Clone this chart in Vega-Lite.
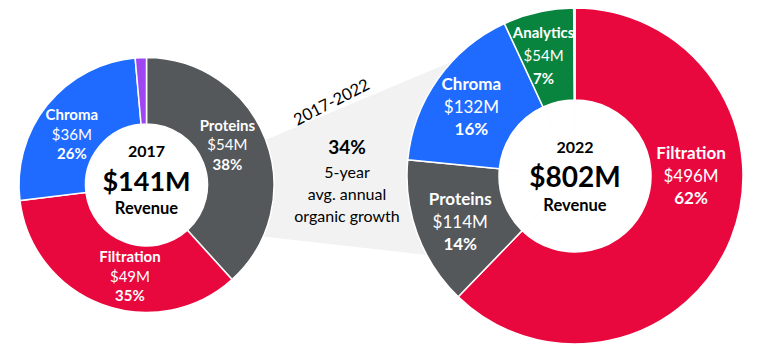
{
  "$schema": "https://vega.github.io/schema/vega-lite/v6.json",
  "width": 761,
  "height": 352,
  "autosize": {"type": "fit", "contains": "padding"},
  "padding": 0,
  "background": "white",
  "config": {"view": {"stroke": null}, "text": {"font": "Lato"}},
  "datasets": {
    "slices": [
      {"year": "2017", "segment": "Proteins", "value": 54, "ord": 1, "label": "Proteins", "amount": "$54M", "share": "38%"},
      {"year": "2017", "segment": "Filtration", "value": 49, "ord": 2, "label": "Filtration", "amount": "$49M", "share": "35%"},
      {"year": "2017", "segment": "Chroma", "value": 36, "ord": 3, "label": "Chroma", "amount": "$36M", "share": "26%"},
      {"year": "2017", "segment": "Other", "value": 2, "ord": 4, "label": "", "amount": "", "share": ""},
      {"year": "2022", "segment": "Filtration", "value": 496, "ord": 1, "label": "Filtration", "amount": "$496M", "share": "62%"},
      {"year": "2022", "segment": "Proteins", "value": 114, "ord": 2, "label": "Proteins", "amount": "$114M", "share": "14%"},
      {"year": "2022", "segment": "Chroma", "value": 132, "ord": 3, "label": "Chroma", "amount": "$132M", "share": "16%"},
      {"year": "2022", "segment": "Analytics", "value": 54, "ord": 4, "label": "Analytics", "amount": "$54M", "share": "7%"},
      {"year": "2022", "segment": "Other", "value": 1, "ord": 5, "label": "", "amount": "", "share": ""}
    ],
    "totals": [
      {"year": "2017", "total": "$141M", "caption": "Revenue"},
      {"year": "2022", "total": "$802M", "caption": "Revenue"}
    ],
    "band": [
      {"year": "2017", "upper": 190, "lower": 223.4},
      {"year": "2022", "upper": 10, "lower": 271.7}
    ],
    "growth": [
      {"year": "2017-2022", "span": "2017-2022", "rate": "34%", "l1": "5-year", "l2": "avg. annual", "l3": "organic growth"}
    ]
  },
  "resolve": {"scale": {"theta": "independent", "y": "independent"}},
  "layer": [
    {
      "data": {"name": "band"},
      "mark": {"type": "area", "color": "#F2F2F2", "interpolate": "linear"},
      "encoding": {
        "x": {"field": "year", "type": "nominal", "scale": {"type": "point", "domain": ["2017", "2017-2022", "2022"], "range": [146.5, 575], "padding": 0}, "axis": null},
        "y": {"field": "upper", "type": "quantitative", "scale": {"domain": [0, 352], "reverse": true, "zero": false, "nice": false}, "axis": null},
        "y2": {"field": "lower"}
      }
    },
    {
      "data": {"name": "slices"},
      "transform": [{"filter": "datum.year === '2017'"}],
      "mark": {"type": "arc", "radius": 62, "fill": "white"},
      "encoding": {
        "x": {"field": "year", "type": "nominal", "scale": {"type": "point", "domain": ["2017", "2017-2022", "2022"], "range": [146.5, 575], "padding": 0}, "axis": null},
        "y": {"field": "year", "type": "nominal", "scale": {"type": "point", "domain": ["2017", "2017-2022", "2022"], "range": [185, 176], "padding": 0}, "axis": null},
        "theta": {"field": "value", "type": "quantitative", "stack": true},
        "order": {"field": "ord", "type": "quantitative"},
        "detail": {"field": "segment"}
      }
    },
    {
      "data": {"name": "slices"},
      "transform": [{"filter": "datum.year === '2017'"}],
      "mark": {"type": "arc", "radius": 127.5, "radius2": 61, "stroke": "white", "strokeWidth": 1.5},
      "encoding": {
        "x": {"field": "year", "type": "nominal", "scale": {"type": "point", "domain": ["2017", "2017-2022", "2022"], "range": [146.5, 575], "padding": 0}, "axis": null},
        "y": {"field": "year", "type": "nominal", "scale": {"type": "point", "domain": ["2017", "2017-2022", "2022"], "range": [185, 176], "padding": 0}, "axis": null},
        "theta": {"field": "value", "type": "quantitative", "stack": true},
        "order": {"field": "ord", "type": "quantitative"},
        "color": {"field": "segment", "type": "nominal", "scale": {"domain": ["Proteins", "Filtration", "Chroma", "Analytics", "Other"], "range": ["#54585A", "#E8083E", "#1F6BFF", "#08843E", "#9D46F2"]}, "legend": null}
      }
    },
    {
      "data": {"name": "slices"},
      "transform": [{"filter": "datum.year === '2022'"}],
      "mark": {"type": "arc", "radius": 77, "fill": "white"},
      "encoding": {
        "x": {"field": "year", "type": "nominal", "scale": {"type": "point", "domain": ["2017", "2017-2022", "2022"], "range": [146.5, 575], "padding": 0}, "axis": null},
        "y": {"field": "year", "type": "nominal", "scale": {"type": "point", "domain": ["2017", "2017-2022", "2022"], "range": [185, 176], "padding": 0}, "axis": null},
        "theta": {"field": "value", "type": "quantitative", "stack": true},
        "order": {"field": "ord", "type": "quantitative"},
        "detail": {"field": "segment"}
      }
    },
    {
      "data": {"name": "slices"},
      "transform": [{"filter": "datum.year === '2022'"}],
      "mark": {"type": "arc", "radius": 168, "radius2": 76, "stroke": "white", "strokeWidth": 1.5},
      "encoding": {
        "x": {"field": "year", "type": "nominal", "scale": {"type": "point", "domain": ["2017", "2017-2022", "2022"], "range": [146.5, 575], "padding": 0}, "axis": null},
        "y": {"field": "year", "type": "nominal", "scale": {"type": "point", "domain": ["2017", "2017-2022", "2022"], "range": [185, 176], "padding": 0}, "axis": null},
        "theta": {"field": "value", "type": "quantitative", "stack": true},
        "order": {"field": "ord", "type": "quantitative"},
        "color": {"field": "segment", "type": "nominal", "scale": {"domain": ["Proteins", "Filtration", "Chroma", "Analytics", "Other"], "range": ["#54585A", "#E8083E", "#1F6BFF", "#08843E", "#9D46F2"]}, "legend": null}
      }
    },
    {
      "data": {"name": "slices"},
      "transform": [{"filter": "datum.year === '2017'"}],
      "mark": {"type": "text", "radius": 90, "dy": -19.5, "fontSize": 15, "fontWeight": "bold", "fill": "white", "align": "center", "baseline": "middle"},
      "encoding": {
        "x": {"field": "year", "type": "nominal", "scale": {"type": "point", "domain": ["2017", "2017-2022", "2022"], "range": [146.5, 575], "padding": 0}, "axis": null},
        "y": {"field": "year", "type": "nominal", "scale": {"type": "point", "domain": ["2017", "2017-2022", "2022"], "range": [185, 176], "padding": 0}, "axis": null},
        "theta": {"field": "value", "type": "quantitative", "stack": true, "scale": {"range": [-0.087, 6.196]}},
        "order": {"field": "ord", "type": "quantitative"},
        "detail": {"field": "segment"},
        "text": {"condition": {"test": "datum.segment === 'Filtration'", "value": ""}, "field": "label", "type": "nominal"}
      }
    },
    {
      "data": {"name": "slices"},
      "transform": [{"filter": "datum.year === '2017'"}],
      "mark": {"type": "text", "radius": 90, "dy": 0, "fontSize": 15, "fontWeight": "normal", "fill": "white", "align": "center", "baseline": "middle"},
      "encoding": {
        "x": {"field": "year", "type": "nominal", "scale": {"type": "point", "domain": ["2017", "2017-2022", "2022"], "range": [146.5, 575], "padding": 0}, "axis": null},
        "y": {"field": "year", "type": "nominal", "scale": {"type": "point", "domain": ["2017", "2017-2022", "2022"], "range": [185, 176], "padding": 0}, "axis": null},
        "theta": {"field": "value", "type": "quantitative", "stack": true, "scale": {"range": [-0.087, 6.196]}},
        "order": {"field": "ord", "type": "quantitative"},
        "detail": {"field": "segment"},
        "text": {"condition": {"test": "datum.segment === 'Filtration'", "value": ""}, "field": "amount", "type": "nominal"}
      }
    },
    {
      "data": {"name": "slices"},
      "transform": [{"filter": "datum.year === '2017'"}],
      "mark": {"type": "text", "radius": 90, "dy": 19.5, "fontSize": 15, "fontWeight": "bold", "fill": "white", "align": "center", "baseline": "middle"},
      "encoding": {
        "x": {"field": "year", "type": "nominal", "scale": {"type": "point", "domain": ["2017", "2017-2022", "2022"], "range": [146.5, 575], "padding": 0}, "axis": null},
        "y": {"field": "year", "type": "nominal", "scale": {"type": "point", "domain": ["2017", "2017-2022", "2022"], "range": [185, 176], "padding": 0}, "axis": null},
        "theta": {"field": "value", "type": "quantitative", "stack": true, "scale": {"range": [-0.087, 6.196]}},
        "order": {"field": "ord", "type": "quantitative"},
        "detail": {"field": "segment"},
        "text": {"condition": {"test": "datum.segment === 'Filtration'", "value": ""}, "field": "share", "type": "nominal"}
      }
    },
    {
      "data": {"name": "slices"},
      "transform": [{"filter": "datum.year === '2017'"}],
      "mark": {"type": "text", "radius": 90, "dx": 7.4, "dy": -14.5, "fontSize": 15, "fontWeight": "bold", "fill": "white", "align": "center", "baseline": "middle"},
      "encoding": {
        "x": {"field": "year", "type": "nominal", "scale": {"type": "point", "domain": ["2017", "2017-2022", "2022"], "range": [146.5, 575], "padding": 0}, "axis": null},
        "y": {"field": "year", "type": "nominal", "scale": {"type": "point", "domain": ["2017", "2017-2022", "2022"], "range": [185, 176], "padding": 0}, "axis": null},
        "theta": {"field": "value", "type": "quantitative", "stack": true, "scale": {"range": [-0.087, 6.196]}},
        "order": {"field": "ord", "type": "quantitative"},
        "detail": {"field": "segment"},
        "text": {"condition": {"test": "datum.segment === 'Filtration'", "field": "label", "type": "nominal"}, "value": ""}
      }
    },
    {
      "data": {"name": "slices"},
      "transform": [{"filter": "datum.year === '2017'"}],
      "mark": {"type": "text", "radius": 90, "dx": 7.4, "dy": 5, "fontSize": 15, "fontWeight": "normal", "fill": "white", "align": "center", "baseline": "middle"},
      "encoding": {
        "x": {"field": "year", "type": "nominal", "scale": {"type": "point", "domain": ["2017", "2017-2022", "2022"], "range": [146.5, 575], "padding": 0}, "axis": null},
        "y": {"field": "year", "type": "nominal", "scale": {"type": "point", "domain": ["2017", "2017-2022", "2022"], "range": [185, 176], "padding": 0}, "axis": null},
        "theta": {"field": "value", "type": "quantitative", "stack": true, "scale": {"range": [-0.087, 6.196]}},
        "order": {"field": "ord", "type": "quantitative"},
        "detail": {"field": "segment"},
        "text": {"condition": {"test": "datum.segment === 'Filtration'", "field": "amount", "type": "nominal"}, "value": ""}
      }
    },
    {
      "data": {"name": "slices"},
      "transform": [{"filter": "datum.year === '2017'"}],
      "mark": {"type": "text", "radius": 90, "dx": 7.4, "dy": 24.5, "fontSize": 15, "fontWeight": "bold", "fill": "white", "align": "center", "baseline": "middle"},
      "encoding": {
        "x": {"field": "year", "type": "nominal", "scale": {"type": "point", "domain": ["2017", "2017-2022", "2022"], "range": [146.5, 575], "padding": 0}, "axis": null},
        "y": {"field": "year", "type": "nominal", "scale": {"type": "point", "domain": ["2017", "2017-2022", "2022"], "range": [185, 176], "padding": 0}, "axis": null},
        "theta": {"field": "value", "type": "quantitative", "stack": true, "scale": {"range": [-0.087, 6.196]}},
        "order": {"field": "ord", "type": "quantitative"},
        "detail": {"field": "segment"},
        "text": {"condition": {"test": "datum.segment === 'Filtration'", "field": "share", "type": "nominal"}, "value": ""}
      }
    },
    {
      "data": {"name": "slices"},
      "transform": [{"filter": "datum.year === '2022'"}],
      "mark": {"type": "text", "radius": 124, "dy": -23, "fontWeight": "bold", "fill": "white", "align": "center", "baseline": "middle"},
      "encoding": {
        "x": {"field": "year", "type": "nominal", "scale": {"type": "point", "domain": ["2017", "2017-2022", "2022"], "range": [146.5, 575], "padding": 0}, "axis": null},
        "y": {"field": "year", "type": "nominal", "scale": {"type": "point", "domain": ["2017", "2017-2022", "2022"], "range": [185, 176], "padding": 0}, "axis": null},
        "theta": {"field": "value", "type": "quantitative", "stack": true, "scale": {"range": [-0.035, 6.248]}},
        "order": {"field": "ord", "type": "quantitative"},
        "detail": {"field": "segment"},
        "size": {"condition": {"test": "datum.segment === 'Analytics'", "value": 15}, "value": 17},
        "text": {"condition": {"test": "datum.segment === 'Filtration'", "value": ""}, "field": "label", "type": "nominal"}
      }
    },
    {
      "data": {"name": "slices"},
      "transform": [{"filter": "datum.year === '2022'"}],
      "mark": {"type": "text", "radius": 124, "dy": 0, "fontWeight": "normal", "fill": "white", "align": "center", "baseline": "middle"},
      "encoding": {
        "x": {"field": "year", "type": "nominal", "scale": {"type": "point", "domain": ["2017", "2017-2022", "2022"], "range": [146.5, 575], "padding": 0}, "axis": null},
        "y": {"field": "year", "type": "nominal", "scale": {"type": "point", "domain": ["2017", "2017-2022", "2022"], "range": [185, 176], "padding": 0}, "axis": null},
        "theta": {"field": "value", "type": "quantitative", "stack": true, "scale": {"range": [-0.035, 6.248]}},
        "order": {"field": "ord", "type": "quantitative"},
        "detail": {"field": "segment"},
        "size": {"condition": {"test": "datum.segment === 'Analytics'", "value": 15}, "value": 17},
        "text": {"condition": {"test": "datum.segment === 'Filtration'", "value": ""}, "field": "amount", "type": "nominal"}
      }
    },
    {
      "data": {"name": "slices"},
      "transform": [{"filter": "datum.year === '2022'"}],
      "mark": {"type": "text", "radius": 124, "dy": 22.5, "fontWeight": "bold", "fill": "white", "align": "center", "baseline": "middle"},
      "encoding": {
        "x": {"field": "year", "type": "nominal", "scale": {"type": "point", "domain": ["2017", "2017-2022", "2022"], "range": [146.5, 575], "padding": 0}, "axis": null},
        "y": {"field": "year", "type": "nominal", "scale": {"type": "point", "domain": ["2017", "2017-2022", "2022"], "range": [185, 176], "padding": 0}, "axis": null},
        "theta": {"field": "value", "type": "quantitative", "stack": true, "scale": {"range": [-0.035, 6.248]}},
        "order": {"field": "ord", "type": "quantitative"},
        "detail": {"field": "segment"},
        "size": {"condition": {"test": "datum.segment === 'Analytics'", "value": 15}, "value": 17},
        "text": {"condition": {"test": "datum.segment === 'Filtration'", "value": ""}, "field": "share", "type": "nominal"}
      }
    },
    {
      "data": {"name": "slices"},
      "transform": [{"filter": "datum.year === '2022'"}],
      "mark": {"type": "text", "radius": 20, "dx": 97.5, "dy": -29.5, "fontSize": 17, "fontWeight": "bold", "fill": "white", "align": "center", "baseline": "middle"},
      "encoding": {
        "x": {"field": "year", "type": "nominal", "scale": {"type": "point", "domain": ["2017", "2017-2022", "2022"], "range": [146.5, 575], "padding": 0}, "axis": null},
        "y": {"field": "year", "type": "nominal", "scale": {"type": "point", "domain": ["2017", "2017-2022", "2022"], "range": [185, 176], "padding": 0}, "axis": null},
        "theta": {"field": "value", "type": "quantitative", "stack": true},
        "order": {"field": "ord", "type": "quantitative"},
        "detail": {"field": "segment"},
        "text": {"condition": {"test": "datum.segment === 'Filtration'", "field": "label", "type": "nominal"}, "value": ""}
      }
    },
    {
      "data": {"name": "slices"},
      "transform": [{"filter": "datum.year === '2022'"}],
      "mark": {"type": "text", "radius": 20, "dx": 97.5, "dy": -6.5, "fontSize": 17, "fontWeight": "normal", "fill": "white", "align": "center", "baseline": "middle"},
      "encoding": {
        "x": {"field": "year", "type": "nominal", "scale": {"type": "point", "domain": ["2017", "2017-2022", "2022"], "range": [146.5, 575], "padding": 0}, "axis": null},
        "y": {"field": "year", "type": "nominal", "scale": {"type": "point", "domain": ["2017", "2017-2022", "2022"], "range": [185, 176], "padding": 0}, "axis": null},
        "theta": {"field": "value", "type": "quantitative", "stack": true},
        "order": {"field": "ord", "type": "quantitative"},
        "detail": {"field": "segment"},
        "text": {"condition": {"test": "datum.segment === 'Filtration'", "field": "amount", "type": "nominal"}, "value": ""}
      }
    },
    {
      "data": {"name": "slices"},
      "transform": [{"filter": "datum.year === '2022'"}],
      "mark": {"type": "text", "radius": 20, "dx": 97.5, "dy": 16, "fontSize": 17, "fontWeight": "bold", "fill": "white", "align": "center", "baseline": "middle"},
      "encoding": {
        "x": {"field": "year", "type": "nominal", "scale": {"type": "point", "domain": ["2017", "2017-2022", "2022"], "range": [146.5, 575], "padding": 0}, "axis": null},
        "y": {"field": "year", "type": "nominal", "scale": {"type": "point", "domain": ["2017", "2017-2022", "2022"], "range": [185, 176], "padding": 0}, "axis": null},
        "theta": {"field": "value", "type": "quantitative", "stack": true},
        "order": {"field": "ord", "type": "quantitative"},
        "detail": {"field": "segment"},
        "text": {"condition": {"test": "datum.segment === 'Filtration'", "field": "share", "type": "nominal"}, "value": ""}
      }
    },
    {
      "data": {"name": "totals"},
      "transform": [{"filter": "datum.year === '2017'"}],
      "mark": {"type": "text", "dy": -28, "fontSize": 16, "fontWeight": "bold", "fill": "black", "align": "center", "baseline": "alphabetic"},
      "encoding": {
        "x": {"field": "year", "type": "nominal", "scale": {"type": "point", "domain": ["2017", "2017-2022", "2022"], "range": [146.5, 575], "padding": 0}, "axis": null},
        "y": {"field": "year", "type": "nominal", "scale": {"type": "point", "domain": ["2017", "2017-2022", "2022"], "range": [185, 176], "padding": 0}, "axis": null},
        "text": {"field": "year", "type": "nominal"}
      }
    },
    {
      "data": {"name": "totals"},
      "transform": [{"filter": "datum.year === '2017'"}],
      "mark": {"type": "text", "dy": 6, "fontSize": 27, "fontWeight": "bold", "fill": "black", "align": "center", "baseline": "alphabetic"},
      "encoding": {
        "x": {"field": "year", "type": "nominal", "scale": {"type": "point", "domain": ["2017", "2017-2022", "2022"], "range": [146.5, 575], "padding": 0}, "axis": null},
        "y": {"field": "year", "type": "nominal", "scale": {"type": "point", "domain": ["2017", "2017-2022", "2022"], "range": [185, 176], "padding": 0}, "axis": null},
        "text": {"field": "total", "type": "nominal"}
      }
    },
    {
      "data": {"name": "totals"},
      "transform": [{"filter": "datum.year === '2017'"}],
      "mark": {"type": "text", "dy": 29.3, "fontSize": 16.5, "fontWeight": "bold", "fill": "black", "align": "center", "baseline": "alphabetic"},
      "encoding": {
        "x": {"field": "year", "type": "nominal", "scale": {"type": "point", "domain": ["2017", "2017-2022", "2022"], "range": [146.5, 575], "padding": 0}, "axis": null},
        "y": {"field": "year", "type": "nominal", "scale": {"type": "point", "domain": ["2017", "2017-2022", "2022"], "range": [185, 176], "padding": 0}, "axis": null},
        "text": {"field": "caption", "type": "nominal"}
      }
    },
    {
      "data": {"name": "totals"},
      "transform": [{"filter": "datum.year === '2022'"}],
      "mark": {"type": "text", "dy": -22.7, "fontSize": 16, "fontWeight": "bold", "fill": "black", "align": "center", "baseline": "alphabetic"},
      "encoding": {
        "x": {"field": "year", "type": "nominal", "scale": {"type": "point", "domain": ["2017", "2017-2022", "2022"], "range": [146.5, 575], "padding": 0}, "axis": null},
        "y": {"field": "year", "type": "nominal", "scale": {"type": "point", "domain": ["2017", "2017-2022", "2022"], "range": [185, 176], "padding": 0}, "axis": null},
        "text": {"field": "year", "type": "nominal"}
      }
    },
    {
      "data": {"name": "totals"},
      "transform": [{"filter": "datum.year === '2022'"}],
      "mark": {"type": "text", "dy": 10.7, "fontSize": 28, "fontWeight": "bold", "fill": "black", "align": "center", "baseline": "alphabetic"},
      "encoding": {
        "x": {"field": "year", "type": "nominal", "scale": {"type": "point", "domain": ["2017", "2017-2022", "2022"], "range": [146.5, 575], "padding": 0}, "axis": null},
        "y": {"field": "year", "type": "nominal", "scale": {"type": "point", "domain": ["2017", "2017-2022", "2022"], "range": [185, 176], "padding": 0}, "axis": null},
        "text": {"field": "total", "type": "nominal"}
      }
    },
    {
      "data": {"name": "totals"},
      "transform": [{"filter": "datum.year === '2022'"}],
      "mark": {"type": "text", "dy": 34.7, "fontSize": 16.5, "fontWeight": "bold", "fill": "black", "align": "center", "baseline": "alphabetic"},
      "encoding": {
        "x": {"field": "year", "type": "nominal", "scale": {"type": "point", "domain": ["2017", "2017-2022", "2022"], "range": [146.5, 575], "padding": 0}, "axis": null},
        "y": {"field": "year", "type": "nominal", "scale": {"type": "point", "domain": ["2017", "2017-2022", "2022"], "range": [185, 176], "padding": 0}, "axis": null},
        "text": {"field": "caption", "type": "nominal"}
      }
    },
    {
      "data": {"name": "growth"},
      "mark": {"type": "text", "angle": -27, "dx": 9.5, "dy": -82.5, "fontSize": 16.5, "fontWeight": "normal", "fill": "black", "align": "center", "baseline": "middle"},
      "encoding": {
        "x": {"field": "year", "type": "nominal", "scale": {"type": "point", "domain": ["2017", "2017-2022", "2022"], "range": [146.5, 575], "padding": 0}, "axis": null},
        "y": {"field": "year", "type": "nominal", "scale": {"type": "point", "domain": ["2017", "2017-2022", "2022"], "range": [185, 176], "padding": 0}, "axis": null},
        "text": {"field": "span", "type": "nominal"}
      }
    },
    {
      "data": {"name": "growth"},
      "mark": {"type": "text", "dx": -13.75, "dy": -26.2, "fontSize": 19, "fontWeight": "bold", "fill": "black", "align": "center", "baseline": "alphabetic"},
      "encoding": {
        "x": {"field": "year", "type": "nominal", "scale": {"type": "point", "domain": ["2017", "2017-2022", "2022"], "range": [146.5, 575], "padding": 0}, "axis": null},
        "y": {"field": "year", "type": "nominal", "scale": {"type": "point", "domain": ["2017", "2017-2022", "2022"], "range": [185, 176], "padding": 0}, "axis": null},
        "text": {"field": "rate", "type": "nominal"}
      }
    },
    {
      "data": {"name": "growth"},
      "mark": {"type": "text", "dx": -13.75, "dy": -2.2, "fontSize": 16, "fontWeight": "normal", "fill": "black", "align": "center", "baseline": "alphabetic"},
      "encoding": {
        "x": {"field": "year", "type": "nominal", "scale": {"type": "point", "domain": ["2017", "2017-2022", "2022"], "range": [146.5, 575], "padding": 0}, "axis": null},
        "y": {"field": "year", "type": "nominal", "scale": {"type": "point", "domain": ["2017", "2017-2022", "2022"], "range": [185, 176], "padding": 0}, "axis": null},
        "text": {"field": "l1", "type": "nominal"}
      }
    },
    {
      "data": {"name": "growth"},
      "mark": {"type": "text", "dx": -13.75, "dy": 19.5, "fontSize": 16, "fontWeight": "normal", "fill": "black", "align": "center", "baseline": "alphabetic"},
      "encoding": {
        "x": {"field": "year", "type": "nominal", "scale": {"type": "point", "domain": ["2017", "2017-2022", "2022"], "range": [146.5, 575], "padding": 0}, "axis": null},
        "y": {"field": "year", "type": "nominal", "scale": {"type": "point", "domain": ["2017", "2017-2022", "2022"], "range": [185, 176], "padding": 0}, "axis": null},
        "text": {"field": "l2", "type": "nominal"}
      }
    },
    {
      "data": {"name": "growth"},
      "mark": {"type": "text", "dx": -13.75, "dy": 41.2, "fontSize": 16, "fontWeight": "normal", "fill": "black", "align": "center", "baseline": "alphabetic"},
      "encoding": {
        "x": {"field": "year", "type": "nominal", "scale": {"type": "point", "domain": ["2017", "2017-2022", "2022"], "range": [146.5, 575], "padding": 0}, "axis": null},
        "y": {"field": "year", "type": "nominal", "scale": {"type": "point", "domain": ["2017", "2017-2022", "2022"], "range": [185, 176], "padding": 0}, "axis": null},
        "text": {"field": "l3", "type": "nominal"}
      }
    }
  ]
}
